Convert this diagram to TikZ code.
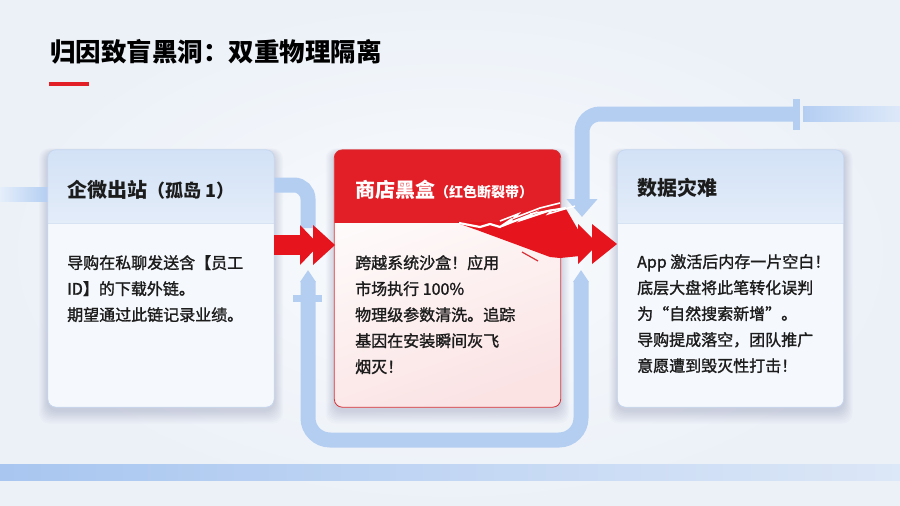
\documentclass[tikz,border=0pt]{standalone}
\usepackage{fontspec}
\setmainfont{Noto Sans CJK SC}
\newfontfamily\bodyfont{Noto Sans CJK SC}[FakeBold=1.4]
\usetikzlibrary{arrows.meta}
\definecolor{bgA}{HTML}{F9FBFD}
\definecolor{bgB}{HTML}{ECF1F8}
\definecolor{pipe}{HTML}{B4CEF2}
\definecolor{pipeD}{HTML}{A8C6F0}
\definecolor{pipeL}{HTML}{DCE7F7}
\definecolor{hdrA}{HTML}{D3E2F6}
\definecolor{hdrB}{HTML}{E3ECF9}
\definecolor{bodyA}{HTML}{F5F8FC}
\definecolor{cardline}{HTML}{C6D6EE}
\definecolor{redH}{HTML}{E21E26}
\definecolor{redA}{HTML}{E6151D}
\definecolor{redline}{HTML}{D83036}
\definecolor{pinkB}{HTML}{FBE3E4}
\definecolor{ink}{HTML}{1C1C1C}
\begin{document}
\begin{tikzpicture}[x=1pt,y=-1pt,
  pipe/.style={draw=pipe, line width=15pt},
  flange/.style={fill=pipe},
  cardbox/.style={minimum width=226pt, minimum height=257pt, inner sep=0pt, rounded corners=8pt},
  ctitle/.style={anchor=west, inner sep=0pt, font=\fontsize{20pt}{24pt}\selectfont\bfseries, text=ink},
  cbody/.style={anchor=north west, inner sep=0pt, align=left, font=\bodyfont\fontsize{16pt}{26pt}\selectfont, text=ink},
  redarrow/.style={fill=redA},
  crack/.style={draw=white, line width=2pt, line join=miter},
  shadowc/.style={fill=blue!35!black, opacity=0.014},
]
\useasboundingbox (0,0) rectangle (900,506);
\shade[inner color=bgA, outer color=bgB] (0,0) rectangle (900,506);

% bottom band
\shade[left color=pipeD, right color=pipeL] (0,464) rectangle (900,480);

% card shadows
\foreach \cx in {161,447.5,730.5}{
  \foreach \k in {1,...,9}{
    \fill[shadowc, rounded corners=10pt] (\cx-113-\k,152-0.4*\k) rectangle (\cx+113+\k,410+1.5*\k);
  }
}

% cards
\node[cardbox, fill=bodyA] (c1) at (161,278.5) {};
\node[cardbox, fill=white] (c2) at (447.5,278.5) {};
\node[cardbox, fill=bodyA] (c3) at (730.5,278.5) {};

% pipes
\coordinate (inL) at (0,187);
\shade[left color=pipe!35!white, right color=pipe] (inL) rectangle (c1.west |- 0,201);
\coordinate (c1out) at (274,185);
\coordinate (dropL) at (308,228);
\draw[pipe, rounded corners=14pt] (c1out) -- (dropL |- c1out) -- (dropL);
\coordinate (loopL) at (308,270);
\coordinate (loopR) at (581,270);
\draw[pipe, rounded corners=22pt, {Triangle[width=15pt,length=12pt]}-{Triangle[width=15pt,length=12pt]}]
  (loopL) -- (308,440) -- (581,440) -- (loopR);
\fill[flange] (293,295) rectangle (322,302);
\coordinate (trf) at (797,114);
\coordinate (trd) at (582,217);
\draw[pipe, rounded corners=18pt, -{Triangle[width=30pt,length=18pt]}] (trf) -- (trd |- trf) -- (trd);
\fill[flange] (793,99) rectangle (800,130);
\shade[left color=pipe, right color=pipe!45!white] (803,106.5) rectangle (900,121.5);

% card 1 fill
\begin{scope}
  \clip[rounded corners=8pt] (c1.north west) rectangle (c1.south east);
  \shade[top color=hdrA, bottom color=hdrB] (c1.north west) rectangle ([yshift=-73pt]c1.north east);
\end{scope}
\draw[cardline!70, line width=0.6pt] ([yshift=-73pt]c1.north west) -- ([yshift=-73pt]c1.north east);
\draw[cardline, line width=0.8pt, rounded corners=8pt] (c1.north west) rectangle (c1.south east);

% card 3 fill
\begin{scope}
  \clip[rounded corners=8pt] (c3.north west) rectangle (c3.south east);
  \shade[top color=hdrA, bottom color=hdrB] (c3.north west) rectangle ([yshift=-73pt]c3.north east);
\end{scope}
\draw[cardline!70, line width=0.6pt] ([yshift=-73pt]c3.north west) -- ([yshift=-73pt]c3.north east);
\draw[cardline, line width=0.8pt, rounded corners=8pt] (c3.north west) rectangle (c3.south east);

% card 2
\begin{scope}
  \clip[rounded corners=8pt] (c2.north west) rectangle (c2.south east);
  \shade[top color=white, bottom color=pinkB, shading angle=20] (c2.north west) rectangle (c2.south east);
  \fill[redH] (c2.north west) rectangle ([yshift=-73pt]c2.north east);
\end{scope}
\draw[redline, line width=0.8pt, rounded corners=8pt] (c2.north west) rectangle (c2.south east);

% left red arrow
\coordinate (la) at (275,245);
\begin{scope}[shift={(la)}]
  \fill[redarrow] (-1,-10) rectangle (27,10);
  \fill[redarrow] (25,-20) -- (44,0) -- (25,20) -- cycle;
  \fill[redarrow] (38,-20) -- (60,0) -- (38,20) -- cycle;
\end{scope}

% right red arrow: torn strip out of the header
\coordinate (ra) at (578,244);
\fill[redarrow] (458,222) -- (500,222) -- (545,212) -- (566,209) -- (580,233) -- (580,256)
  -- (560,258) -- (550,257) -- (515,244) -- (477,230) -- (460,224) -- cycle;
\begin{scope}[shift={(ra)}]
  \fill[redarrow] (0,-20) -- (20,0) -- (0,20) -- cycle;
  \fill[redarrow] (14,-20) -- (39,0) -- (14,20) -- cycle;
\end{scope}
% cracks
\draw[crack, line width=2.2pt] (459,223) -- (480,227) -- (490,224) -- (500,227) -- (512,219) -- (507,224) -- (530,215) -- (524,219) -- (548,211) -- (566,208);
\draw[crack, line width=1.6pt] (500,221) -- (518,214) -- (514,218) -- (540,208) -- (560,203);
\draw[crack, line width=1.4pt] (530,214) -- (552,210) -- (548,214) -- (575,206);
\draw[redline, line width=1.2pt] (522,252) -- (538,261);

% title
\node[anchor=west, inner sep=0pt, font=\fontsize{25.5pt}{30pt}\selectfont\bfseries, text=black] (title) at (50,52) {归因致盲黑洞：双重物理隔离};
\coordinate (ulA) at (49,84);
\coordinate (ulB) at (89,84);
\draw[redH, line width=3.5pt] (ulA) -- (ulB);

% card texts
\node[ctitle] (c1t) at (67,190) {企微出站{\fontsize{18pt}{20pt}\selectfont（孤岛 1）}};
\node[ctitle, text=white] (c2t) at (355,190) {商店黑盒{\fontsize{14pt}{16pt}\selectfont（红色断裂带）}};
\node[ctitle] (c3t) at (637,188) {数据灾难};

\node[cbody] (c1b) at (67,255) {导购在私聊发送含【员工\\ID】的下载外链。\\期望通过此链记录业绩。};
\node[cbody] (c2b) at (355,255) {跨越系统沙盒！应用\\市场执行 100\%\\物理级参数清洗。追踪\\基因在安装瞬间灰飞\\烟灭！};
\node[cbody] (c3b) at (637,254) {App 激活后内存一片空白！\\底层大盘将此笔转化误判\\为“自然搜索新增”。\\导购提成落空，团队推广\\意愿遭到毁灭性打击！};
\end{tikzpicture}
\end{document}
